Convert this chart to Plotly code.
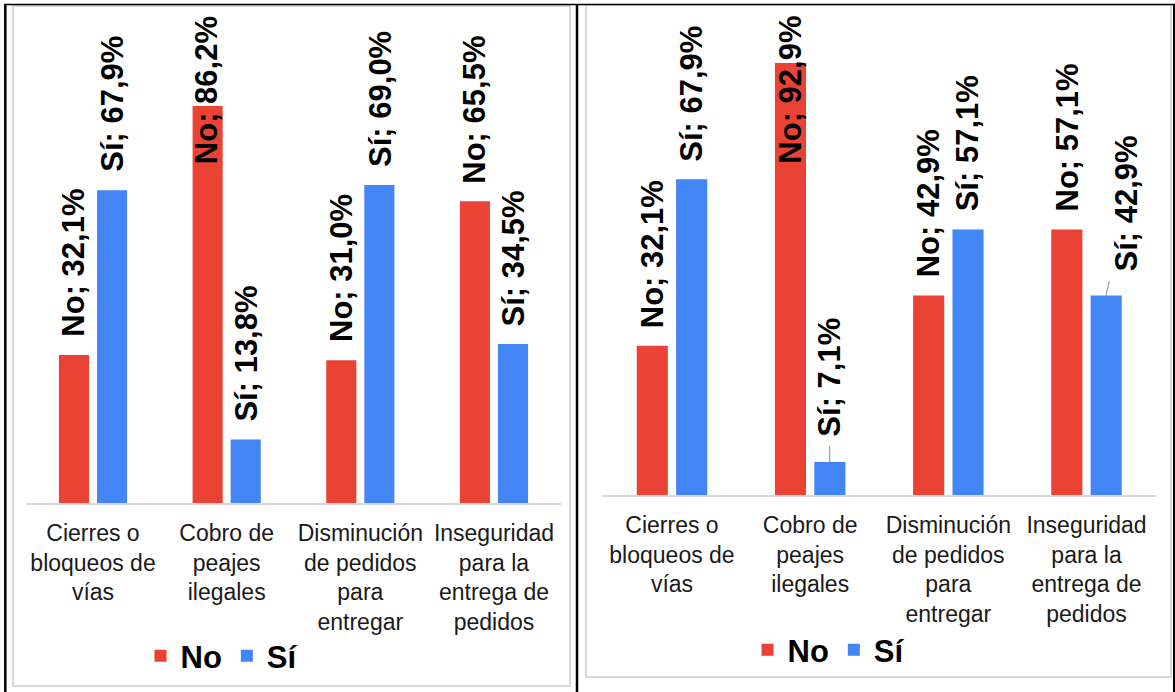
import plotly.graph_objects as go

# ---------------- data ----------------
categories = [
    "Cierres o<br>bloqueos de<br>vías",
    "Cobro de<br>peajes<br>ilegales",
    "Disminución<br>de pedidos<br>para<br>entregar",
    "Inseguridad<br>para la<br>entrega de<br>pedidos",
]
series_names = ["No", "Sí"]
left_no = [32.1, 86.2, 31.0, 65.5]
left_si = [67.9, 13.8, 69.0, 34.5]
right_no = [32.1, 92.9, 42.9, 57.1]
right_si = [67.9, 7.1, 57.1, 42.9]

# ---------------- style ----------------
W, H = 1175, 692
RED = "#EA4335"
BLUE = "#4285F4"
FONT = "Liberation Sans, Arial, sans-serif"
LABEL_SIZE = 31
TICK_SIZE = 23

def px_x(p):
    return p / W

def px_y(p):
    return 1 - p / H

# panels: (x axis domain px, baseline px, top px, px per unit)
panels = [
    dict(xd=(26.2, 560.8), base=503, top=14, scale=4.607, xa="x", ya="y", legend="legend",
         no=left_no, si=left_si),
    dict(xd=(602.9, 1155.6), base=495, top=14, scale=4.65, xa="x2", ya="y2", legend="legend2",
         no=right_no, si=right_si),
]
# labels that Excel moved by hand (panel index, series index, category index) -> (ax, ay) px
leader_offsets = {(1, 1, 1): (0, -85), (1, 1, 3): (21, -92)}
CLAMP_AT = 80  # labels of taller bars are pulled inside the plot area

fig = go.Figure()
annotations = []

for pi, p in enumerate(panels):
    for si, (name, vals, col) in enumerate(zip(series_names, [p["no"], p["si"]], [RED, BLUE])):
        fig.add_trace(go.Bar(
            x=categories, y=vals, name=name, marker=dict(color=col, line=dict(width=0)),
            xaxis=p["xa"], yaxis=p["ya"], legend=p["legend"], hoverinfo="skip",
        ))
        yr_top = (p["base"] - p["top"]) / p["scale"]
        for ci, (cat, v) in enumerate(zip(categories, vals)):
            txt = f"{name}; {v:.1f}%".replace(".", ",")
            xshift = -19.5 if si == 0 else 19.5
            common = dict(
                x=cat, xref=p["xa"], yref=p["ya"], text=txt, textangle=-90,
                font=dict(family=FONT, size=LABEL_SIZE, color="black", weight="bold"),
                xshift=xshift,
            )
            key = (pi, si, ci)
            if key in leader_offsets:
                ax, ay = leader_offsets[key]
                annotations.append(dict(
                    **common, y=v, showarrow=True, arrowhead=0, arrowwidth=1.3,
                    arrowcolor="#a6a6a6", ax=ax, ay=ay, startstandoff=8,
                    xanchor="center", yanchor="middle",
                ))
            elif v > CLAMP_AT:
                annotations.append(dict(**common, y=yr_top, yanchor="top", showarrow=False))
            else:
                annotations.append(dict(**common, y=v, yanchor="bottom", yshift=16, showarrow=False))

def xaxis_cfg(p):
    return dict(
        domain=[px_x(p["xd"][0]), px_x(p["xd"][1])], anchor=p["ya"], type="category",
        showline=True, linecolor="#d9d9d9", linewidth=2, showgrid=False, ticks="",
        tickfont=dict(family=FONT, size=TICK_SIZE, color="#1a1a1a"), ticklabelstandoff=8,
        fixedrange=True,
    )

def yaxis_cfg(p):
    return dict(
        domain=[px_y(p["base"]), px_y(p["top"])], anchor=p["xa"],
        range=[0, (p["base"] - p["top"]) / p["scale"]],
        showticklabels=False, showgrid=False, zeroline=False, showline=False, fixedrange=True,
    )

shapes = [
    # grey chart frames
    dict(type="rect", xref="paper", yref="paper", x0=px_x(13), x1=px_x(570), y0=px_y(686), y1=px_y(6),
         line=dict(color="#d9d9d9", width=2)),
    dict(type="rect", xref="paper", yref="paper", x0=px_x(586), x1=px_x(1171), y0=px_y(677), y1=px_y(5),
         line=dict(color="#d9d9d9", width=2)),
    # black table lines
    dict(type="line", xref="paper", yref="paper", x0=px_x(4), x1=1, y0=px_y(4.5), y1=px_y(4.5),
         line=dict(color="black", width=1.5)),
    dict(type="line", xref="paper", yref="paper", x0=px_x(5.3), x1=px_x(5.3), y0=0, y1=px_y(4),
         line=dict(color="black", width=2.5)),
    dict(type="line", xref="paper", yref="paper", x0=px_x(577), x1=px_x(577), y0=0, y1=px_y(4),
         line=dict(color="black", width=2.5)),
    dict(type="line", xref="paper", yref="paper", x0=px_x(1174), x1=px_x(1174), y0=0, y1=px_y(4),
         line=dict(color="black", width=2)),
]

legend_font = dict(family=FONT, size=31, color="black", weight="bold")
fig.update_layout(
    width=W, height=H, margin=dict(l=0, r=0, t=0, b=0),
    paper_bgcolor="white", plot_bgcolor="white",
    barmode="group", bargap=0.43, bargroupgap=0.21,
    xaxis=xaxis_cfg(panels[0]), yaxis=yaxis_cfg(panels[0]),
    xaxis2=xaxis_cfg(panels[1]), yaxis2=yaxis_cfg(panels[1]),
    legend=dict(orientation="h", x=px_x(222), y=px_y(656), xanchor="center", yanchor="middle",
                font=legend_font, itemwidth=30, bgcolor="rgba(0,0,0,0)"),
    legend2=dict(orientation="h", x=px_x(829), y=px_y(650), xanchor="center", yanchor="middle",
                 font=legend_font, itemwidth=30, bgcolor="rgba(0,0,0,0)"),
    annotations=annotations, shapes=shapes,
    showlegend=True,
)

fig.write_html(
    "out.html",
    config={"displayModeBar": False},
    post_script="document.body.style.margin='0';document.body.style.overflow='hidden';",
)
